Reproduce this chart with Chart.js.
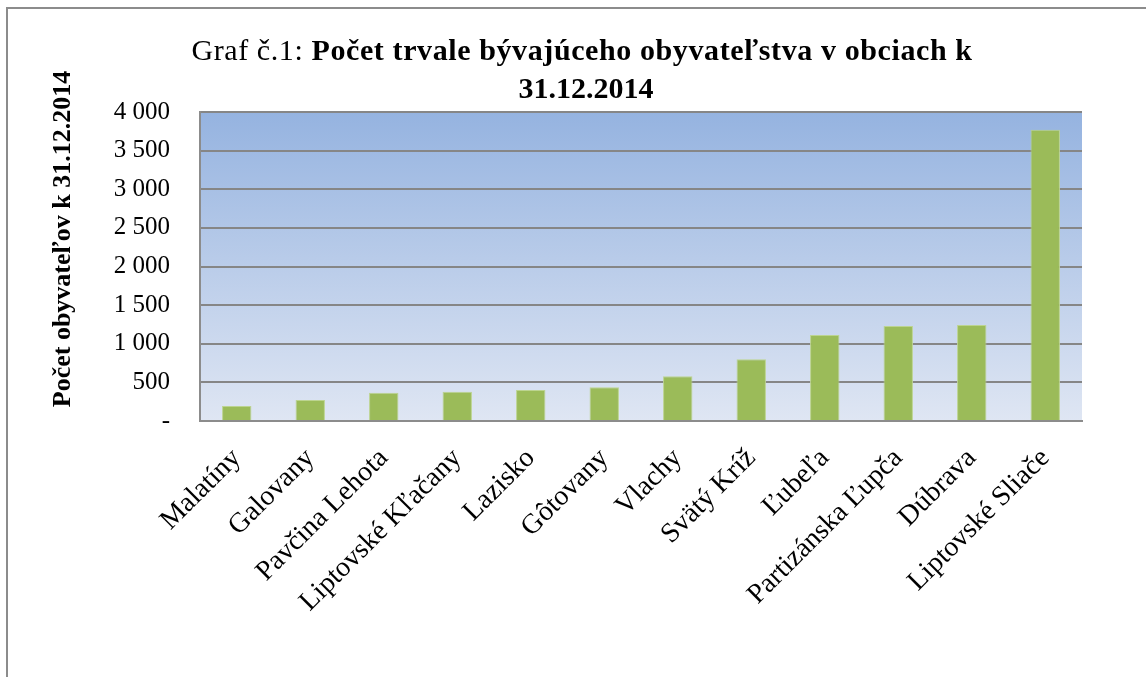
<!DOCTYPE html>
<html>
<head>
<meta charset="utf-8">
<script src="https://cdn.jsdelivr.net/npm/chart.js@4"></script>
<style>
  html, body { margin: 0; padding: 0; background: #fff; }
  #wrap { position: relative; width: 1146px; height: 677px; }
  #frame { position: absolute; left: 6px; top: 7px; right: -4px; bottom: -4px;
           border-top: 2px solid #8c8c8c; border-left: 2px solid #8c8c8c; }
  canvas { position: absolute; left: 0; top: 0; }
</style>
</head>
<body>
<div id="wrap">
  <div id="frame"></div>
  <canvas id="popChart" width="1146" height="677"></canvas>
</div>
<script>
// Data
const obce = ['Malatíny', 'Galovany', 'Pavčina Lehota', 'Liptovské Kľačany', 'Lazisko', 'Gôtovany',
    'Vlachy', 'Svätý Kríž', 'Ľubeľa', 'Partizánska Ľupča', 'Dúbrava', 'Liptovské Sliače'];
const obyvatelia = [195, 272, 366, 380, 401, 436, 578, 798, 1113, 1230, 1243, 3771];
const yTicks = [0, 500, 1000, 1500, 2000, 2500, 3000, 3500, 4000];

const titlePrefix = 'Graf č.1: ';
const titleBold = ['Počet trvale bývajúceho obyvateľstva v obciach k', '31.12.2014'];
const yTitle = 'Počet obyvateľov k 31.12.2014';

function formatTick(v) {
    if (v === 0) return '-';
    const t = Math.floor(v / 1000);
    const r = String(v % 1000).padStart(3, '0');
    return t > 0 ? t + ' ' + r : String(v);
}

// plot background gradient + titles drawn on the canvas
const decor = {
    id: 'decor',
    beforeDraw(chart) {
        const { ctx, chartArea: a } = chart;
        const g = ctx.createLinearGradient(0, a.top, 0, a.bottom);
        g.addColorStop(0, '#95b3e0');
        g.addColorStop(1, '#dfe6f3');
        ctx.save();
        ctx.fillStyle = g;
        ctx.fillRect(a.left, a.top, a.right - a.left, a.bottom - a.top);
        ctx.restore();
    },
    afterDraw(chart) {
        const ctx = chart.ctx;
        ctx.save();
        ctx.fillStyle = '#000';
        ctx.textBaseline = 'alphabetic';
        ctx.textAlign = 'left';
        ctx.letterSpacing = '0.6px';
        ctx.font = '30px "Liberation Serif"';
        const w1 = ctx.measureText(titlePrefix).width;
        ctx.font = 'bold 30px "Liberation Serif"';
        const w2 = ctx.measureText(titleBold[0]).width;
        const x = 582 - (w1 + w2) / 2;
        ctx.font = '30px "Liberation Serif"';
        ctx.fillText(titlePrefix, x, 60);
        ctx.font = 'bold 30px "Liberation Serif"';
        ctx.fillText(titleBold[0], x + w1, 60);
        ctx.letterSpacing = '0px';
        ctx.textAlign = 'center';
        ctx.fillText(titleBold[1], 586, 98);

        ctx.translate(70, 239);
        ctx.rotate(-Math.PI / 2);
        ctx.font = 'bold 26px "Liberation Serif"';
        ctx.textAlign = 'center';
        ctx.fillText(yTitle, 0, 0);
        ctx.restore();
    }
};

new Chart(document.getElementById('popChart'), {
    type: 'bar',
    data: {
        labels: obce,
        datasets: [{
            data: obyvatelia,
            backgroundColor: '#9bbb59',
            borderColor: '#bcd490',
            borderWidth: 1,
            barPercentage: 0.4,
            categoryPercentage: 1
        }]
    },
    options: {
        responsive: false,
        animation: false,
        layout: { padding: { top: 112, right: 64, left: 0, bottom: 0 } },
        plugins: { legend: { display: false }, tooltip: { enabled: false } },
        scales: {
            x: {
                grid: { display: false, drawTicks: false },
                border: { color: '#8c8c8c', width: 2 },
                ticks: {
                    color: '#000',
                    font: { family: 'Liberation Serif', size: 28 },
                    minRotation: 45, maxRotation: 45,
                    padding: 21,
                    autoSkip: false
                },
                afterFit(s) { s.height = 677 - 421; }
            },
            y: {
                min: 0, max: 4000,
                afterBuildTicks(s) { s.ticks = yTicks.map(v => ({ value: v })); },
                grid: { color: '#868686', lineWidth: 2, drawTicks: false },
                border: { color: '#8c8c8c', width: 2 },
                ticks: {
                    color: '#000',
                    font: { family: 'Liberation Serif', size: 25 },
                    padding: 30,
                    callback: v => formatTick(v)
                },
                afterFit(s) { s.width = 200; }
            }
        }
    },
    plugins: [decor]
});
</script>
</body>
</html>
